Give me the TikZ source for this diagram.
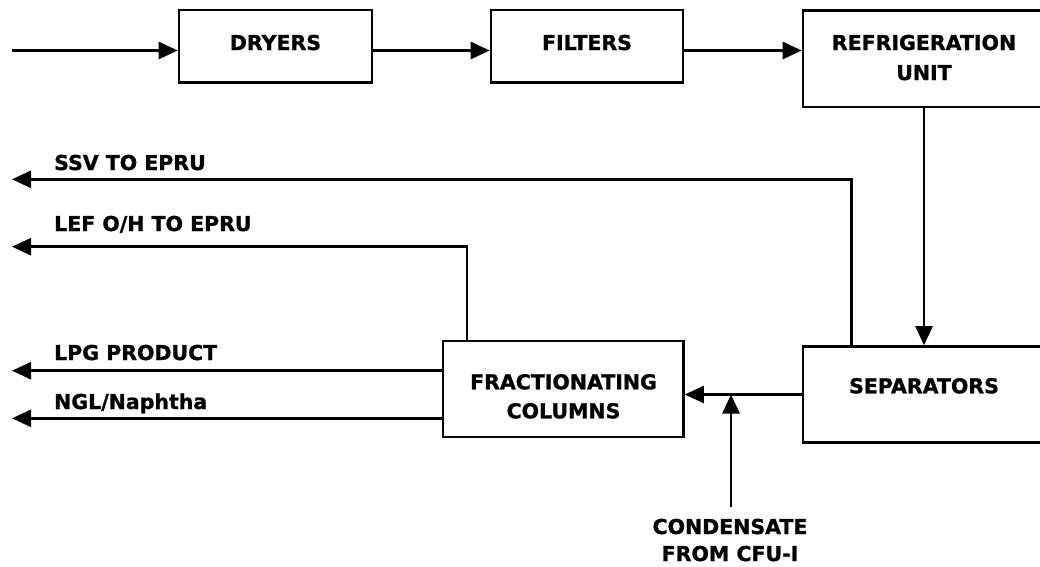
\documentclass[tikz,border=0pt]{standalone}
\usepackage{fontspec}
\setmainfont{DejaVu Sans}
\newfontfamily\heavyfont{DejaVu Sans Bold}[FakeBold=1.2]
\usetikzlibrary{arrows.meta}
\newcommand{\labelfont}{\fontsize{20.5pt}{24pt}\selectfont\heavyfont}
\begin{document}
\begin{tikzpicture}[x=1pt, y=-1pt,
  box/.style={draw, line width=2.6pt, inner sep=0pt, fill=white},
  flow/.style={line width=2.6pt, -{Triangle[length=19pt, width=17pt]}},
  lbl/.style={font=\labelfont, inner sep=0pt, anchor=base},
  lbll/.style={lbl, anchor=base west}]
\useasboundingbox (0,0) rectangle (1040,566);

% process units
\node[box, minimum width=193pt, minimum height=72.3pt] (dryers) at (275.5,46.15) {};
\node[box, minimum width=192pt, minimum height=72.3pt] (filters) at (587,46.15) {};
\node[box, minimum width=242pt, minimum height=96.3pt] (refrig) at (924,58.85) {};
\node[box, minimum width=242pt, minimum height=96.2pt] (sep) at (924,394.6) {};
\node[box, minimum width=240.5pt, minimum height=96pt] (fract) at (563.25,389) {};

% unit names
\node[lbl] (dryers-t) at (275.5,50) {DRYERS};
\node[lbl] (filters-t) at (587,50) {FILTERS};
\node[lbl] (refrig-t1) at (924,50) {REFRIGERATION};
\node[lbl] (refrig-t2) at (924,80) {UNIT};
\node[lbl] (sep-t) at (924,393.3) {SEPARATORS};
\node[lbl] (fract-t1) at (563.5,389.3) {FRACTIONATING};
\node[lbl] (fract-t2) at (563.5,418.3) {COLUMNS};

% stream end points
\coordinate (feed) at (12,50.5);
\coordinate (ssvx) at (851.7,179.3);
\coordinate (ssv) at (12,179.3);
\coordinate (lefx) at (467,246.7);
\coordinate (lef) at (12,246.7);
\coordinate (lpg) at (12,370.7);
\coordinate (ngl) at (12,418.3);
\coordinate (mix) at (731,394.5);
\coordinate (cond) at (731,506.7);

% main train
\draw[flow] (feed) -- (feed -| dryers.west);
\draw[flow] (feed -| dryers.east) -- (feed -| filters.west);
\draw[flow] (feed -| filters.east) -- (feed -| refrig.west);
\draw[flow] (refrig.south) -- (sep.north);

% products
\draw[flow] (ssvx |- sep.north) -- (ssvx) -- (ssv);
\draw[flow] (lefx |- fract.north) -- (lefx) -- (lef);
\draw[flow] (lpg -| fract.west) -- (lpg);
\draw[flow] (ngl -| fract.west) -- (ngl);

% feed to fractionation
\draw[flow] (mix -| sep.west) -- (mix -| fract.east);
\draw[flow] (cond) -- (mix);

% stream names
\node[lbll] (ssv-t) at (54,170) {SSV TO EPRU};
\node[lbll] (lef-t) at (54,231) {LEF O/H TO EPRU};
\node[lbll] (lpg-t) at (54,360) {LPG PRODUCT};
\node[lbll] (ngl-t) at (54,409) {NGL/Naphtha};
\node[lbl] (cond-t1) at (730,534) {CONDENSATE};
\node[lbl] (cond-t2) at (730,561) {FROM CFU-I};
\end{tikzpicture}
\end{document}
